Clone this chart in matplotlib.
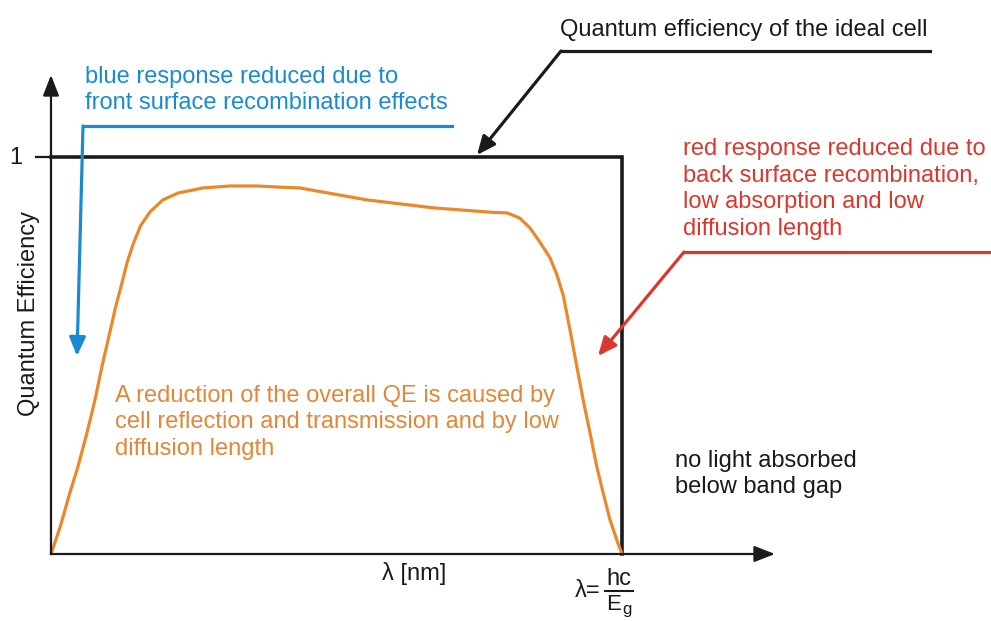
import matplotlib
matplotlib.use("Agg")
import matplotlib.pyplot as plt

plt.rcParams['font.family'] = ['Liberation Sans', 'DejaVu Sans']

# wavelength normalised to the band gap wavelength hc/Eg, and the measured QE
wavelength = [0.000, 0.016, 0.033, 0.047, 0.063, 0.077, 0.089, 0.102, 0.114,
              0.124, 0.133, 0.144, 0.157, 0.173, 0.196, 0.222, 0.266, 0.314,
              0.361, 0.401, 0.436, 0.553, 0.669, 0.769, 0.799, 0.821, 0.839,
              0.856, 0.874, 0.886, 0.897, 0.909, 0.921, 0.932, 0.944, 0.956,
              0.967, 0.979, 0.991, 1.000]
qe = [0.000, 0.068, 0.154, 0.219, 0.305, 0.388, 0.471, 0.552, 0.627,
      0.681, 0.733, 0.781, 0.827, 0.861, 0.892, 0.909, 0.922, 0.927,
      0.927, 0.924, 0.922, 0.892, 0.872, 0.861, 0.859, 0.846, 0.821,
      0.786, 0.746, 0.703, 0.652, 0.564, 0.471, 0.388, 0.305, 0.219,
      0.154, 0.086, 0.035, 0.000]

# ideal cell: QE = 1 up to the band gap, 0 beyond
ideal_x = [0.0, 1.0, 1.0]
ideal_y = [1.0, 1.0, 0.0]

BLUE = '#1a8bd0'
RED = '#d9382e'
ORANGE = '#e8892c'
ORANGE_TXT = '#e0883a'
INK = '#1a1a1a'

W, H = 991, 621
X0, Y0 = 51, 554          # origin in pixels
SX, SY = 571, 397         # pixels per unit


def P(x, y):
    """pixel position -> data coordinates"""
    return (x - X0) / SX, (Y0 - y) / SY


fig = plt.figure(figsize=(W / 100, H / 100), dpi=100)
ax = fig.add_axes([0, 0, 1, 1])
ax.set_xlim(-X0 / SX, (W - X0) / SX)
ax.set_ylim((Y0 - H) / SY, Y0 / SY)
ax.axis('off')

# axes with arrow heads
axis_kw = dict(arrowstyle='-|>,head_length=0.9,head_width=0.35', color=INK,
               lw=1.6, shrinkA=0, shrinkB=0, mutation_scale=14)
ax.annotate('', xy=P(775, 554), xytext=P(51, 554), arrowprops=axis_kw)
ax.annotate('', xy=P(51, 75), xytext=P(51, 554), arrowprops=axis_kw)

# tick for QE = 1
ax.plot([P(36, 0)[0], 0], [1, 1], color=INK, lw=1.6)
ax.text(*P(16, 158), '1', fontsize=17, color=INK, ha='center', va='center')

ax.plot(ideal_x, ideal_y, color=INK, lw=2.6, solid_joinstyle='miter')
ax.plot(wavelength, qe, color=ORANGE, lw=2.3, solid_capstyle='round',
        solid_joinstyle='round')


def leader(points, color):
    xs, ys = zip(*[P(*p) for p in points[:-1]])
    ax.plot(xs, ys, color=color, lw=2.3, solid_joinstyle='miter')
    ax.annotate('', xy=P(*points[-1]), xytext=P(*points[-2]),
                arrowprops=dict(arrowstyle='-|>,head_length=0.8,head_width=0.35',
                                color=color, lw=2.3, shrinkA=0, shrinkB=0,
                                mutation_scale=14))


def lines(x, y0, pitch, rows, color, size=17):
    for i, s in enumerate(rows):
        ax.text(*P(x, y0 + i * pitch), s, fontsize=size, color=color,
                ha='left', va='baseline')


leader([(452, 126), (83, 126), (77, 356)], BLUE)
lines(85, 83, 26.5, ['blue response reduced due to',
                     'front surface recombination effects'], BLUE)

leader([(930, 51), (561, 51), (477, 155)], INK)
lines(560, 36, 26.5, ['Quantum efficiency of the ideal cell'], INK)

leader([(995, 252), (684, 252), (598, 356)], RED)
lines(683, 155, 26.7, ['red response reduced due to',
                       'back surface recombination,',
                       'low absorption and low',
                       'diffusion length'], RED)

lines(115, 402, 26.5, ['A reduction of the overall QE is caused by',
                       'cell reflection and transmission and by low',
                       'diffusion length'], ORANGE_TXT)

lines(675, 467, 26.5, ['no light absorbed', 'below band gap'], INK)

# axis labels
ax.text(*P(382, 580), 'λ [nm]', fontsize=17, color=INK, ha='left', va='baseline')
ax.text(*P(29, 314), 'Quantum Efficiency', fontsize=17, color=INK,
        rotation=90, ha='center', va='center')

# band gap wavelength lambda = hc / Eg
ax.text(*P(588, 591), 'λ=', fontsize=17, color=INK, ha='center', va='center')
ax.text(*P(619, 585), 'hc', fontsize=17, color=INK, ha='center', va='baseline')
ax.plot(*zip(P(605, 591), P(633, 591)), color=INK, lw=1.5)
ax.text(*P(606, 610), 'E', fontsize=16, color=INK, ha='left', va='baseline')
ax.text(*P(622, 614), 'g', fontsize=12, color=INK, ha='left', va='baseline')

fig.savefig('out.png', dpi=100)
